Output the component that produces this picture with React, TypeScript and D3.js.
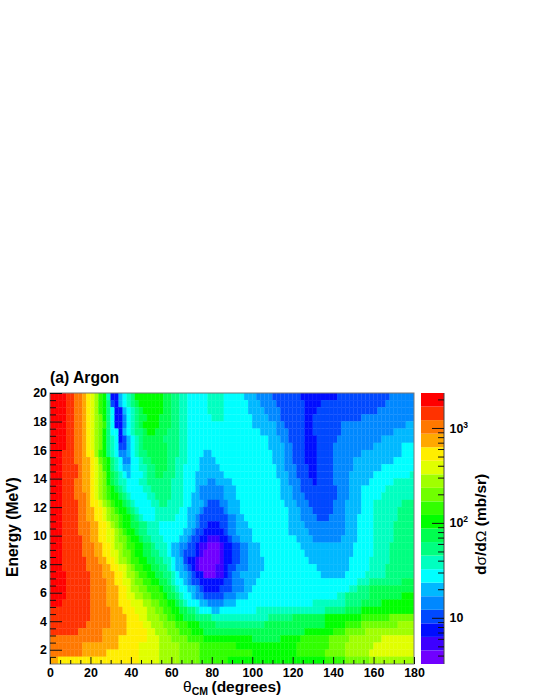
import { useEffect, useRef } from 'react'
import * as d3 from 'd3'

// contour band colours, lowest band first
const bandColors = [
  '#7000ff', '#3c00ff', '#0010ff', '#0048ff', '#0088ff', '#00b8ff', '#00ffff', '#00ffc0', '#00ff80', '#00ff50',
  '#00ff00', '#30ff00', '#70ff00', '#a0ff00', '#e0ff00', '#ffee00', '#ffa800', '#ff7800', '#ff3000', '#ff0000',
]

const energyTicks = [2, 4, 6, 8, 10, 12, 14, 16, 18, 20]
const energyMinor = [1.5, 2.5, 3, 3.5, 4.5, 5, 5.5, 6.5, 7, 7.5, 8.5, 9, 9.5, 10.5, 11, 11.5, 12.5, 13, 13.5, 14.5, 15, 15.5, 16.5, 17, 17.5, 18.5, 19, 19.5]
const angleTicks = [0, 20, 40, 60, 80, 100, 120, 140, 160, 180]
const angleMinor = [5, 10, 15, 25, 30, 35, 45, 50, 55, 65, 70, 75, 85, 90, 95, 105, 110, 115, 125, 130, 135, 145, 150, 155, 165, 170, 175]
const zMajor = [10, 100, 1000]
const zMinor = [4, 5, 6, 7, 8, 9, 20, 30, 40, 50, 60, 70, 80, 90, 200, 300, 400, 500, 600, 700, 800, 900, 2000]

// each row of the 2D histogram, from 20 MeV downwards, 0.5 MeV per row
// pairs of [band index, theta where that band ends]
const rowRuns = [
  [19,8,18,12,17,16,16,18,15,20,14,22,13,24,11,26,10,28,7,30,2,34,5,36,6,38,7,40,8,42,10,56,9,60,8,64,7,68,6,78,7,86,6,96,5,102,4,110,3,124,2,142,3,168,4,180],
  [19,8,18,12,17,16,16,18,15,20,14,22,13,24,11,26,10,28,8,30,3,32,2,34,5,36,6,38,7,40,8,42,9,44,10,56,9,60,8,64,7,68,6,78,7,86,6,98,5,104,4,112,3,126,2,134,3,166,4,180],
  [19,8,18,12,17,16,16,18,15,20,14,22,13,24,11,26,10,28,8,30,6,32,2,36,5,38,6,40,7,42,8,44,9,46,10,56,9,60,8,64,7,68,6,78,7,86,6,98,5,106,4,114,3,126,2,132,3,162,4,180],
  [19,8,18,12,17,16,16,18,15,20,14,22,13,24,12,26,10,28,8,30,6,32,2,36,4,38,6,40,7,42,8,44,9,48,10,54,9,60,8,64,7,68,6,80,7,86,6,100,5,108,4,114,3,126,2,130,3,154,4,180],
  [19,8,18,12,17,16,16,18,15,20,14,22,13,24,12,26,11,28,8,30,6,32,2,36,4,38,6,40,7,42,8,44,9,46,10,54,9,60,8,64,7,68,6,100,5,112,4,116,3,126,2,130,3,144,4,176,5,180],
  [19,8,18,12,17,16,16,18,15,20,14,22,13,24,12,26,10,28,8,30,6,34,2,36,5,38,6,40,7,42,8,46,9,48,10,52,9,58,8,64,7,68,6,104,5,112,4,118,3,126,2,130,3,144,4,170,5,180],
  [19,8,18,12,17,16,16,18,15,20,14,22,13,24,12,26,10,28,8,30,7,32,6,34,2,36,3,38,5,40,6,42,7,44,8,46,9,56,8,64,7,68,6,108,5,114,4,118,3,126,2,132,3,142,4,164,5,180],
  [19,8,18,12,17,16,16,18,15,20,14,22,13,24,12,26,10,28,8,30,7,32,6,34,3,38,5,40,6,42,7,44,8,46,9,58,8,64,7,68,6,108,5,116,4,120,3,126,2,132,3,140,4,160,5,174,6,180],
  [19,6,18,12,17,16,16,18,15,22,13,24,11,26,10,28,8,30,7,32,6,34,4,38,5,40,6,42,7,44,8,48,9,58,8,64,7,68,6,76,5,80,6,110,5,116,4,120,3,126,2,132,3,140,4,154,5,174,6,180],
  [19,6,18,12,17,16,16,20,15,22,14,24,12,26,11,28,10,30,8,32,7,34,6,36,4,40,6,44,7,46,8,50,9,58,8,62,7,68,6,74,5,82,6,110,5,116,4,120,3,126,2,132,3,140,4,150,5,170,6,180],
  [19,6,18,14,17,16,16,20,15,22,14,24,13,26,11,28,10,30,8,32,7,34,6,36,5,40,6,44,7,48,8,52,9,58,8,62,7,66,6,74,5,84,6,112,5,116,4,122,3,128,2,132,3,140,4,150,5,164,6,180],
  [19,6,18,14,17,16,16,20,15,22,14,24,13,26,12,28,10,30,9,32,8,34,7,36,6,38,5,40,6,46,7,48,8,52,9,56,8,62,7,66,6,72,5,86,6,112,5,118,4,122,3,128,2,132,3,140,4,148,5,160,6,178,7,180],
  [19,6,18,12,17,16,16,20,15,22,14,24,13,26,12,28,10,30,9,32,8,34,7,38,6,44,7,48,8,60,7,66,6,72,5,78,4,82,5,90,6,114,5,118,4,124,3,130,2,132,3,140,4,148,5,158,6,170,7,180],
  [19,6,18,12,17,16,16,20,15,22,14,24,13,26,12,28,11,30,10,32,9,34,8,36,7,38,6,46,7,50,8,60,7,66,6,72,5,74,4,86,5,92,6,114,5,120,4,124,3,142,4,148,5,154,6,166,7,180],
  [19,6,18,12,17,18,16,20,15,22,14,24,13,26,12,28,11,30,10,34,9,36,8,38,7,40,6,48,7,52,8,60,7,66,6,70,5,74,4,86,5,92,6,114,5,120,4,126,3,142,4,148,5,154,6,164,7,180],
  [19,6,18,14,17,18,16,20,15,24,14,26,13,28,12,30,11,32,10,36,9,38,8,40,7,42,6,50,7,54,8,58,7,66,6,70,5,76,4,78,3,84,4,88,5,94,6,116,5,122,4,128,3,140,4,146,5,154,6,160,7,174,8,180],
  [19,6,18,14,17,18,16,22,15,26,14,28,13,30,12,32,11,34,10,38,9,40,8,42,7,44,6,52,7,64,6,68,5,74,4,76,3,86,4,88,5,94,6,118,5,124,4,130,3,140,4,146,5,154,6,160,7,172,8,180],
  [19,6,18,14,17,18,16,22,15,26,14,28,13,30,12,34,11,36,10,40,9,42,8,44,7,46,6,52,7,62,6,68,5,72,4,74,3,88,4,92,5,96,6,118,5,124,4,132,3,138,4,146,5,152,6,160,7,172,8,180],
  [19,6,18,14,17,20,16,24,15,28,14,30,13,32,12,34,11,36,10,40,9,44,8,48,7,54,6,68,5,72,4,74,3,78,2,84,3,88,4,92,5,98,6,118,5,126,4,146,5,152,6,160,7,170,8,180],
  [19,6,18,14,17,20,16,24,15,28,14,32,13,34,12,36,11,38,10,42,9,44,8,48,7,54,6,66,5,70,4,72,3,76,2,86,3,88,4,92,5,100,6,118,5,128,4,146,5,152,6,160,7,170,8,180],
  [19,6,18,16,17,20,16,24,15,28,14,32,13,34,12,38,11,40,10,44,9,46,8,50,7,56,6,64,5,68,4,70,3,74,2,78,1,84,2,88,3,90,4,94,5,100,6,122,5,130,4,144,5,152,6,160,7,170,8,180],
  [19,6,18,16,17,22,16,26,15,30,14,32,13,36,12,38,11,42,10,46,9,50,8,52,7,58,6,60,5,64,4,68,3,72,2,74,1,78,0,84,1,86,2,90,3,94,4,98,5,104,6,124,5,150,6,160,7,168,8,180],
  [19,6,18,16,17,22,16,26,15,30,14,34,13,36,12,40,11,42,10,46,9,50,8,54,7,58,6,60,5,64,4,66,3,72,2,74,1,76,0,84,1,86,2,90,3,94,4,98,5,104,6,126,5,150,6,160,7,168,8,180],
  [19,6,18,18,17,24,16,28,15,32,14,34,13,38,12,40,11,44,10,48,9,52,8,56,7,60,6,62,5,66,3,68,2,72,1,74,0,84,1,86,2,90,3,94,4,98,5,106,6,128,5,148,6,158,7,168,8,180],
  [19,6,18,18,17,26,16,30,15,34,14,38,13,40,12,42,11,46,10,50,9,54,8,58,7,60,6,62,5,66,4,68,3,70,2,72,1,74,0,82,1,86,2,88,3,92,4,98,5,106,6,132,5,148,6,158,7,166,8,180],
  [19,8,18,20,17,26,16,32,15,36,14,38,13,42,12,44,11,48,10,52,9,56,8,60,7,62,6,64,5,68,4,70,3,72,2,76,0,82,1,86,2,88,3,90,4,94,5,104,6,134,5,146,6,156,7,166,8,180],
  [19,8,18,20,17,28,16,32,15,36,14,40,13,42,12,46,11,50,10,54,9,58,8,60,7,62,6,66,5,68,4,70,3,74,2,86,3,90,4,96,5,102,6,152,7,158,8,174,9,180],
  [19,8,18,20,17,28,16,34,15,38,14,40,13,44,12,48,11,54,10,56,9,60,8,62,7,64,6,68,5,72,4,74,3,76,2,84,3,90,4,96,5,100,6,148,7,152,8,158,9,180],
  [19,8,18,20,17,28,16,34,15,38,14,42,13,46,12,50,11,56,10,58,9,62,8,64,7,66,6,70,5,72,4,76,3,86,4,92,5,98,6,142,7,146,8,158,9,174,10,180],
  [19,6,18,20,17,28,16,34,15,40,14,46,13,50,12,54,11,58,10,62,9,64,8,66,7,68,6,74,5,78,4,86,5,92,6,130,7,146,8,154,9,164,10,180],
  [18,20,17,30,16,36,15,42,14,48,13,52,12,56,11,60,10,64,9,68,8,72,7,74,6,80,5,84,6,102,7,136,8,146,9,154,10,180],
  [18,20,17,30,16,38,15,44,14,48,13,54,12,58,11,62,10,66,9,72,8,80,7,108,8,120,9,136,10,154,11,168,12,180],
  [18,18,17,30,16,38,15,46,14,50,13,56,12,62,11,68,10,74,9,82,8,106,9,136,10,146,11,154,12,172,13,180],
  [18,14,17,26,16,38,15,48,14,52,13,58,12,64,11,70,10,76,9,126,10,140,11,146,12,156,13,180],
  [17,26,16,34,15,48,14,54,13,60,12,68,11,76,10,100,9,114,10,124,11,138,12,148,13,164,14,180],
  [17,16,16,34,15,44,14,54,13,64,12,74,11,92,10,122,11,138,12,146,13,160,14,180],
  [17,16,16,28,15,44,14,54,13,64,12,74,11,100,10,122,11,136,12,146,13,158,14,180],
  [16,4,15,44,14,54,13,64,12,74,11,88,10,136,11,146,12,158,13,180],
]

const X0 = 50, X1 = 414, Y0 = 664, Y1 = 393
const BAR0 = 421, BAR1 = 444
const FONT = '"Liberation Sans", Arial, sans-serif'

export default function App() {
  const svgRef = useRef<SVGSVGElement>(null)

  useEffect(() => {
    const svg = d3.select(svgRef.current)
    svg.selectAll('*').remove()

    const x = d3.scaleLinear().domain([0, 180]).range([X0, X1])
    const y = d3.scaleLinear().domain([1, 20]).range([Y0, Y1])

    // expand the runs into 2 degree cells
    const cells: { theta: number; e: number; band: number }[] = []
    rowRuns.forEach((runs, i) => {
      const e = 19.5 - i * 0.5
      let r = 0
      d3.range(0, 180, 2).forEach(theta => {
        while (runs[r + 1] < theta + 2) r += 2
        cells.push({ theta, e, band: runs[r] })
      })
    })

    // the reference is a soft raster, a small blur keeps the cell steps from looking too sharp
    const defs = svg.append('defs')
    defs.append('filter').attr('id', 'soft').attr('x', 0).attr('y', 0).attr('width', 1).attr('height', 1)
      .append('feGaussianBlur').attr('stdDeviation', 0.45)
    defs.append('clipPath').attr('id', 'plotClip').append('rect')
      .attr('x', X0).attr('y', Y1).attr('width', X1 - X0).attr('height', Y0 - Y1)

    svg.append('g').attr('clip-path', 'url(#plotClip)').append('g').attr('filter', 'url(#soft)')
      .selectAll('rect').data(cells).join('rect')
      .attr('x', d => x(d.theta))
      .attr('y', d => y(d.e + 0.5))
      .attr('width', x(2) - x(0))
      .attr('height', y(1) - y(1.5))
      .attr('fill', d => bandColors[d.band])
      .attr('stroke', d => bandColors[d.band])
      .attr('stroke-width', 0.3)

    // frame
    svg.append('rect').attr('x', X0).attr('y', Y1).attr('width', X1 - X0).attr('height', Y0 - Y1)
      .attr('fill', 'none').attr('stroke', '#777').attr('stroke-width', 1)

    const styleAxis = (ax: any, size: number) => {
      ax.select('.domain').remove()
      ax.selectAll('.tick line').attr('stroke', '#111').attr('stroke-width', 1)
      ax.selectAll('text').attr('fill', '#000').attr('font-family', FONT).attr('font-weight', 700).attr('font-size', size)
    }

    // y axis, ticks point into the plot
    svg.append('g').attr('transform', `translate(${X0},0)`)
      .call(d3.axisLeft(y).tickValues(energyMinor).tickSize(-6).tickFormat(() => ''))
      .call(ax => styleAxis(ax, 12))
    svg.append('g').attr('transform', `translate(${X0},0)`)
      .call(d3.axisLeft(y).tickValues(energyTicks).tickSize(-12).tickPadding(3).tickFormat(d3.format('d')))
      .call(ax => styleAxis(ax, 12.4))

    // x axis
    svg.append('g').attr('transform', `translate(0,${Y0})`)
      .call(d3.axisBottom(x).tickValues(angleMinor).tickSize(-4).tickFormat(() => ''))
      .call(ax => styleAxis(ax, 12))
    svg.append('g').attr('transform', `translate(0,${Y0})`)
      .call(d3.axisBottom(x).tickValues(angleTicks).tickSize(-7).tickPadding(4).tickFormat(d3.format('d')))
      .call(ax => styleAxis(ax, 12.4))

    // colour bar
    const barBand = d3.scaleBand<number>().domain(d3.range(bandColors.length)).range([Y0, Y1])
    svg.append('g').attr('filter', 'url(#soft)').selectAll('rect').data(bandColors).join('rect')
      .attr('x', BAR0).attr('width', BAR1 - BAR0)
      .attr('y', (_, i) => barBand(i)!)
      .attr('height', barBand.bandwidth())
      .attr('fill', d => d)

    const z = d3.scaleLog().domain([3.26, 2336]).range([Y0, Y1])
    svg.append('line').attr('x1', BAR1).attr('x2', BAR1).attr('y1', Y1).attr('y2', Y0).attr('stroke', '#444')
    svg.append('g').attr('transform', `translate(${BAR1},0)`)
      .call(d3.axisRight(z).tickValues(zMinor).tickSize(-6).tickFormat(() => ''))
      .call(ax => styleAxis(ax, 12))
    svg.append('g').attr('transform', `translate(${BAR1},0)`)
      .call(d3.axisRight(z).tickValues(zMajor).tickSize(-12).tickFormat(() => ''))
      .call(ax => styleAxis(ax, 12))

    const bold = (sel: any, size: number) =>
      sel.attr('font-family', FONT).attr('font-weight', 700).attr('font-size', size).attr('fill', '#000')

    zMajor.forEach(v => {
      const t = svg.append('text').attr('x', 449.5).attr('y', z(v) + 4.6).call(bold, 12.4)
      t.append('tspan').text('10')
      if (v > 10) t.append('tspan').attr('dy', -5).attr('font-size', 8.5).text(String(Math.log10(v)))
    })

    // titles
    svg.append('text').attr('x', X0).attr('y', 383).call(bold, 15.7).text('(a) Argon')

    svg.append('text').attr('transform', 'translate(18,577) rotate(-90)').call(bold, 15.6).text('Energy (MeV)')

    const xt = svg.append('text').attr('x', 183).attr('y', 692).call(bold, 15.5)
    xt.append('tspan').attr('font-weight', 400).text('θ')
    xt.append('tspan').attr('dy', 3).attr('font-size', 10.5).text('CM')
    xt.append('tspan').attr('dy', -3).attr('dx', 3.5).text('(degrees)')

    const zt = svg.append('text').attr('transform', 'translate(486,575) rotate(-90)').call(bold, 15.5)
    zt.append('tspan').text('d')
    zt.append('tspan').attr('font-weight', 400).text('σ')
    zt.append('tspan').text('/d')
    zt.append('tspan').attr('font-weight', 400).text('Ω')
    zt.append('tspan').text(' (mb/sr)')
  }, [])

  return (
    <svg ref={svgRef} width={540} height={699}
      style={{ position: 'absolute', left: 0, top: 0, display: 'block', background: '#fff' }} />
  )
}
